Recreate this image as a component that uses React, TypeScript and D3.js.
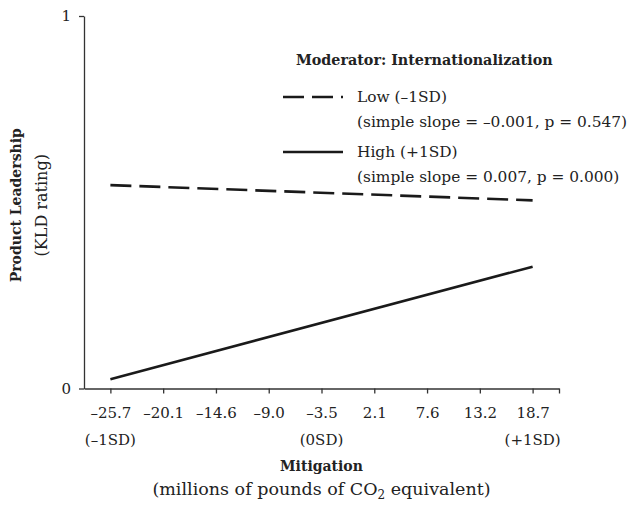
import React, { useEffect, useRef } from "react";
import * as d3 from "d3";

// x categories (mitigation values) and SD markers
const mitigationTicks = ["–25.7", "–20.1", "–14.6", "–9.0", "–3.5", "2.1", "7.6", "13.2", "18.7"];
const sdLabels = [
  { idx: 0, label: "(–1SD)" },
  { idx: 4, label: "(0SD)" },
  { idx: 8, label: "(+1SD)" },
];

// simple slopes: value at -1SD and +1SD of mitigation
const lowValues = [0.546, 0.505];
const highValues = [0.025, 0.327];
const slopeIdx = [0, 8];

const yTicks = [0, 1];

const W = 629;
const H = 505;
const FONT = "'DejaVu Serif', 'Liberation Serif', serif";

export default function App() {
  const ref = useRef<SVGSVGElement>(null);

  useEffect(() => {
    const svg = d3.select(ref.current);
    svg.selectAll("*").remove();

    const x = d3.scaleLinear().domain([-0.5, 8.5]).range([84, 559]);
    const y = d3.scaleLinear().domain([0, 1]).range([388.5, 16]);

    // x axis
    const xAxis = svg
      .append("g")
      .attr("transform", `translate(0,${y(0)})`)
      .call(
        d3
          .axisBottom(x)
          .tickValues([0, 1, 2, 3, 4, 5, 6, 7, 8, 8.5])
          .tickFormat((d) => mitigationTicks[d as number] ?? "")
          .tickSize(5)
          .tickSizeOuter(0)
          .tickPadding(14)
      );
    xAxis.selectAll("line, path").attr("stroke", "#333").attr("stroke-width", 1.3);
    xAxis.selectAll("text").attr("font-family", FONT).attr("font-size", 15).attr("fill", "#222");

    // y axis
    const yAxis = svg
      .append("g")
      .attr("transform", `translate(${x(-0.5)},0)`)
      .call(d3.axisLeft(y).tickValues(yTicks).tickFormat(d3.format("d")).tickSize(5).tickSizeOuter(0).tickPadding(8));
    yAxis.selectAll("line, path").attr("stroke", "#333").attr("stroke-width", 1.3);
    yAxis.selectAll("text").attr("font-family", FONT).attr("font-size", 15).attr("fill", "#222");

    // slope lines
    const line = d3
      .line<number>()
      .x((_, i) => x(slopeIdx[i]))
      .y((d) => y(d));

    svg
      .append("path")
      .attr("d", line(lowValues))
      .attr("fill", "none")
      .attr("stroke", "#1a1a1a")
      .attr("stroke-width", 2.6)
      .attr("stroke-dasharray", "21,8");

    svg
      .append("path")
      .attr("d", line(highValues))
      .attr("fill", "none")
      .attr("stroke", "#1a1a1a")
      .attr("stroke-width", 2.6);

    // SD labels under ticks
    svg
      .selectAll(".sd")
      .data(sdLabels)
      .enter()
      .append("text")
      .attr("x", (d) => x(d.idx))
      .attr("y", 445)
      .attr("text-anchor", "middle")
      .attr("font-family", FONT)
      .attr("font-size", 15)
      .attr("fill", "#222")
      .text((d) => d.label);

    // x title
    svg
      .append("text")
      .attr("x", x(4))
      .attr("y", 471)
      .attr("text-anchor", "middle")
      .attr("font-family", FONT)
      .attr("font-weight", "bold")
      .attr("font-size", 14)
      .attr("fill", "#222")
      .text("Mitigation");

    const sub = svg
      .append("text")
      .attr("x", x(4))
      .attr("y", 495)
      .attr("text-anchor", "middle")
      .attr("font-family", FONT)
      .attr("font-size", 17.5)
      .attr("fill", "#222");
    sub.append("tspan").text("(millions of pounds of CO");
    sub.append("tspan").attr("dy", 4).attr("font-size", 12).text("2");
    sub.append("tspan").attr("dy", -4).text(" equivalent)");

    // y title
    const yMid = (y(0) + y(1)) / 2 + 3;
    svg
      .append("text")
      .attr("transform", `translate(21,${yMid}) rotate(-90)`)
      .attr("text-anchor", "middle")
      .attr("font-family", FONT)
      .attr("font-weight", "bold")
      .attr("font-size", 14)
      .attr("fill", "#222")
      .text("Product Leadership");
    svg
      .append("text")
      .attr("transform", `translate(47,${yMid}) rotate(-90)`)
      .attr("text-anchor", "middle")
      .attr("font-family", FONT)
      .attr("font-size", 16)
      .attr("fill", "#222")
      .text("(KLD rating)");

    // legend
    const lg = svg.append("g");
    lg.append("text")
      .attr("x", 296)
      .attr("y", 65)
      .attr("font-family", FONT)
      .attr("font-weight", "bold")
      .attr("font-size", 14.3)
      .attr("fill", "#222")
      .text("Moderator: Internationalization");

    const items = [
      { name: "Low (–1SD)", note: "(simple slope = –0.001, p = 0.547)", dash: "21,8", y: 97 },
      { name: "High (+1SD)", note: "(simple slope = 0.007, p = 0.000)", dash: null, y: 152 },
    ];
    items.forEach((it) => {
      lg.append("line")
        .attr("x1", 283)
        .attr("x2", 343)
        .attr("y1", it.y)
        .attr("y2", it.y)
        .attr("stroke", "#1a1a1a")
        .attr("stroke-width", 2.4)
        .attr("stroke-dasharray", it.dash);
      lg.append("text")
        .attr("x", 357)
        .attr("y", it.y + 5)
        .attr("font-family", FONT)
        .attr("font-size", 15.4)
        .attr("fill", "#222")
        .text(it.name);
      lg.append("text")
        .attr("x", 357)
        .attr("y", it.y + 30)
        .attr("font-family", FONT)
        .attr("font-size", 15.4)
        .attr("fill", "#222")
        .text(it.note);
    });
  }, []);

  return (
    <div style={{ position: "absolute", left: 0, top: 0, background: "#fff" }}>
      <svg ref={ref} width={W} height={H} style={{ display: "block" }} />
    </div>
  );
}
